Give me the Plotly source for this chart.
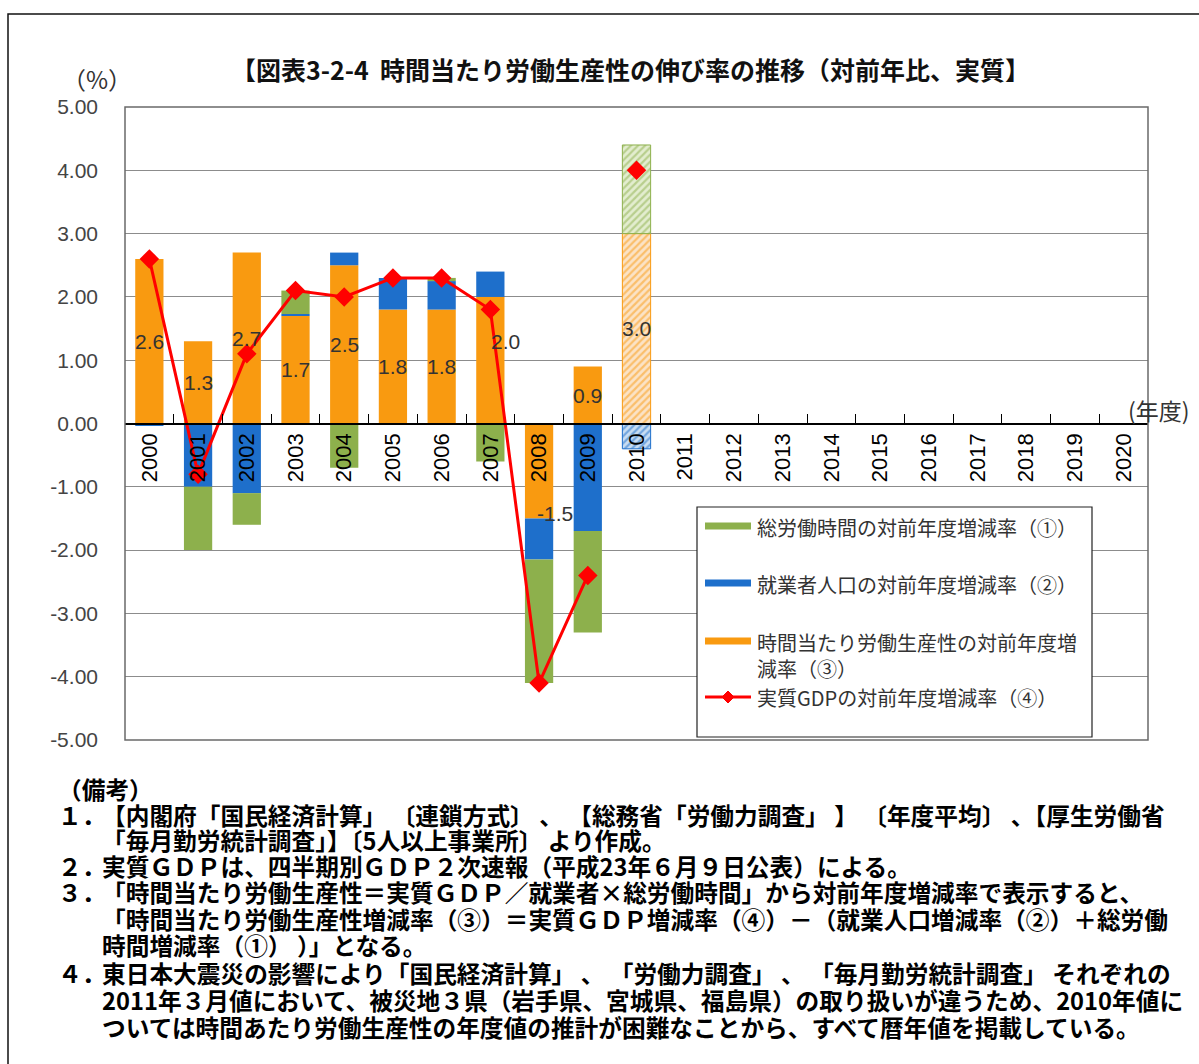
import plotly.graph_objects as go

# ---- data -------------------------------------------------------------
years = [str(y) for y in range(2000, 2021)]
bar_years = years[:11]

hours_rate = [0.0, -1.0, -0.5, 0.37, -0.7, 0.0, 0.05, -0.6, -1.95, -1.6, 1.4]          # ①
workers_rate = [-0.04, -1.0, -1.1, 0.03, 0.2, 0.5, 0.45, 0.4, -0.65, -1.7, -0.4]       # ②
productivity_rate = [2.6, 1.3, 2.7, 1.7, 2.5, 1.8, 1.8, 2.0, -1.5, 0.9, 3.0]            # ③
gdp_rate = [2.6, -0.8, 1.1, 2.1, 2.0, 2.3, 2.3, 1.8, -4.1, -2.4, 4.0]                  # ④

series_names = [
    "総労働時間の対前年度増減率（①）",
    "就業者人口の対前年度増減率（②）",
    "時間当たり労働生産性の対前年度増<br>減率（③）",
    "実質GDPの対前年度増減率（④）",
]

y_tickvals = [5, 4, 3, 2, 1, 0, -1, -2, -3, -4, -5]
y_ticktext = ["5.00", "4.00", "3.00", "2.00", "1.00", "0.00",
              "-1.00", "-2.00", "-3.00", "-4.00", "-5.00"]

title_text = "【図表3-2-4  時間当たり労働生産性の伸び率の推移（対前年比、実質】"
notes_head = "（備考）"
notes_numbers = ["１．", "２．", "３．", "４．"]
notes_lines = [
    "【内閣府「国民経済計算」 〔連鎖方式〕 、 【総務省「労働力調査」 】 〔年度平均〕 、【厚生労働省",
    "「毎月勤労統計調査」】〔5人以上事業所〕 より作成。",
    "実質ＧＤＰは、四半期別ＧＤＰ２次速報（平成23年６月９日公表）による。",
    "「時間当たり労働生産性＝実質ＧＤＰ／就業者×総労働時間」から対前年度増減率で表示すると、",
    "「時間当たり労働生産性増減率（③）＝実質ＧＤＰ増減率（④）－（就業人口増減率（②）＋総労働",
    "時間増減率（①） ）」となる。",
    "東日本大震災の影響により「国民経済計算」 、 「労働力調査」 、 「毎月勤労統計調査」 それぞれの",
    "2011年３月値において、被災地３県（岩手県、宮城県、福島県）の取り扱いが違うため、2010年値に",
    "ついては時間あたり労働生産性の年度値の推計が困難なことから、すべて暦年値を掲載している。",
]

# ---- style ------------------------------------------------------------
W, H = 1199, 1064
M_L, M_R, M_T, M_B = 125, 51, 107, 324
PLOT_W = W - M_L - M_R
PLOT_H = H - M_T - M_B

C_GREEN = "#8DB04C"
C_BLUE = "#1E6FCB"
C_ORANGE = "#F99A10"
C_RED = "#FF0000"
JP = "Noto Sans CJK JP"
LAT = "Liberation Sans"


def px(x):
    return (x - M_L) / PLOT_W


def py(y):
    return (M_T + PLOT_H - y) / PLOT_H


# the last year (2010) is shown with hatched bars
hatch = [""] * (len(bar_years) - 1) + ["/"]


def bar_marker(color, light):
    return dict(
        color=color,
        line=dict(color=color, width=[0] * (len(bar_years) - 1) + [1]),
        pattern=dict(shape=hatch, fgcolor=color, bgcolor=light, size=5, solidity=0.45),
    )


fig = go.Figure()

# stacking order: ③ nearest the axis, then ②, then ①
fig.add_trace(go.Bar(x=bar_years, y=productivity_rate, name=series_names[2],
                     marker=bar_marker(C_ORANGE, "#FBE3C6"), width=0.58, showlegend=False))
fig.add_trace(go.Bar(x=bar_years, y=workers_rate, name=series_names[1],
                     marker=bar_marker(C_BLUE, "#C9DDF2"), width=0.58, showlegend=False))
fig.add_trace(go.Bar(x=bar_years, y=hours_rate, name=series_names[0],
                     marker=bar_marker(C_GREEN, "#E3EDCF"), width=0.58, showlegend=False))
# fiscal-year line up to 2009; the 2010 calendar-year value stands alone
fig.add_trace(go.Scatter(x=bar_years[:-1], y=gdp_rate[:-1], name=series_names[3],
                         mode="lines+markers",
                         line=dict(color=C_RED, width=3),
                         marker=dict(symbol="diamond", size=15, color=C_RED),
                         showlegend=False))
fig.add_trace(go.Scatter(x=bar_years[-1:], y=gdp_rate[-1:], name=series_names[3],
                         mode="markers",
                         marker=dict(symbol="diamond", size=15, color=C_RED),
                         showlegend=False))

shapes = []

# outer frame of the whole figure
shapes.append(dict(type="rect", xref="paper", yref="paper",
                   x0=px(8), x1=px(1210), y0=py(1080), y1=py(14),
                   line=dict(color="#111111", width=1.5), layer="below"))
# plot-area frame
shapes.append(dict(type="rect", xref="paper", yref="paper", x0=0, x1=1, y0=0, y1=1,
                   line=dict(color="#6a6a6a", width=1.5), layer="above"))

# legend box and swatches
shapes.append(dict(type="rect", xref="paper", yref="paper",
                   x0=px(697), x1=px(1092), y0=py(737), y1=py(507),
                   line=dict(color="#222222", width=1.2), fillcolor="white", layer="above"))
legend_rows = [(C_GREEN, 526), (C_BLUE, 583), (C_ORANGE, 641)]
for col, yy in legend_rows:
    shapes.append(dict(type="line", xref="paper", yref="paper",
                       x0=px(705), x1=px(751), y0=py(yy), y1=py(yy),
                       line=dict(color=col, width=7), layer="above"))
shapes.append(dict(type="line", xref="paper", yref="paper",
                   x0=px(705), x1=px(751), y0=py(697), y1=py(697),
                   line=dict(color=C_RED, width=3), layer="above"))
cx, cy, r = 728, 697, 6
shapes.append(dict(type="path", xref="paper", yref="paper",
                   path=(f"M {px(cx - r)},{py(cy)} L {px(cx)},{py(cy - r)} "
                         f"L {px(cx + r)},{py(cy)} L {px(cx)},{py(cy + r)} Z"),
                   fillcolor=C_RED, line=dict(color=C_RED, width=1), layer="above"))

fig.update_layout(
    width=W, height=H,
    margin=dict(l=M_L, r=M_R, t=M_T, b=M_B, pad=0),
    paper_bgcolor="white", plot_bgcolor="white",
    barmode="relative",
    showlegend=False,
    shapes=shapes,
    xaxis=dict(type="category", categoryorder="array", categoryarray=years,
               range=[-0.5, len(years) - 0.5],
               anchor="free", position=0.5,
               showline=True, linecolor="#000000", linewidth=2,
               ticks="inside", tickson="boundaries", ticklen=9, tickcolor="#000000",
               tickangle=-90, showgrid=False,
               tickfont=dict(family=LAT, size=22, color="#000000")),
    yaxis=dict(range=[-5, 5], domain=[0, 1], tickvals=y_tickvals, ticktext=y_ticktext,
               showgrid=True, gridcolor="#8c8c8c", gridwidth=1, zeroline=False,
               ticks="", ticklabelstandoff=26, showline=False,
               tickfont=dict(family=LAT, size=21, color="#444444")),
)

# value labels for ③, centred on each bar segment (x given as category index)
label_shift = {"2007": (15, 19), "2008": (16, -43)}
for i, (yr, v) in enumerate(zip(bar_years, productivity_rate)):
    dx, dy = label_shift.get(yr, (0, 0))
    fig.add_annotation(x=i, y=v / 2, xref="x", yref="y", text=f"{v:.1f}", showarrow=False,
                       xshift=dx, yshift=dy,
                       font=dict(family=LAT, size=21, color="#333333"))


def paper_text(text, x, y, font, xanchor="left", yanchor="middle", align="left"):
    fig.add_annotation(text=text, xref="paper", yref="paper", x=px(x), y=py(y),
                       xanchor=xanchor, yanchor=yanchor, align=align, showarrow=False,
                       font=font)


# title and axis captions
paper_text(title_text, 630, 69, dict(family=JP, size=25, color="#111111", weight="bold"),
           xanchor="center")
paper_text("（%）", 60, 78, dict(family=JP, size=24, color="#333333"))
paper_text("(年度)", 1126, 410, dict(family=JP, size=23, color="#333333"))

# legend labels
legend_font = dict(family=JP, size=20, color="#333333")
for (col, yy), name in zip(legend_rows, series_names[:3]):
    paper_text(name, 755, yy - 15, legend_font, yanchor="top")
paper_text(series_names[3], 755, 697, legend_font)

# notes under the chart
note_font = dict(family=JP, size=23.7, color="#000000", weight="bold")
paper_text(notes_head, 56, 789, note_font)
line_y = [815, 840, 866, 892, 919, 945, 973, 1000, 1027]
number_at = {0: 0, 2: 1, 3: 2, 6: 3}
for i, (txt, yy) in enumerate(zip(notes_lines, line_y)):
    if i in number_at:
        paper_text(notes_numbers[number_at[i]], 56, yy, note_font)
    paper_text(txt, 100, yy, note_font)

fig.write_html("out.html")
